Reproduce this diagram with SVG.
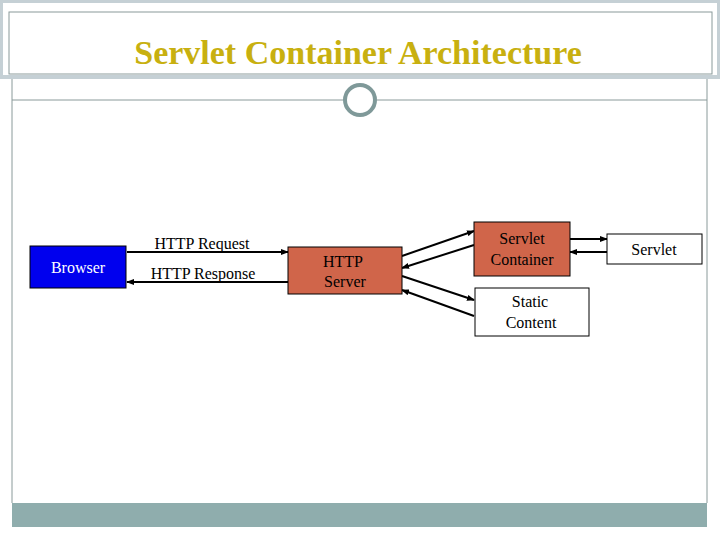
<svg xmlns="http://www.w3.org/2000/svg" width="720" height="540" viewBox="0 0 720 540">
<style>
.t{font-family:"Liberation Serif",serif;font-size:16px;text-anchor:middle}
.c{stroke:#000;stroke-width:2;fill:none;marker-end:url(#a)}
.frame{stroke:#8a9a9a;fill:none}
</style>
<defs><marker id="a" markerWidth="8" markerHeight="6" refX="7" refY="3" orient="auto" markerUnits="userSpaceOnUse"><path d="M0,0L8,3L0,6z" fill="#000"/></marker></defs>
<rect width="720" height="540" fill="#fff"/>
<rect x="1.5" y="1.5" width="717" height="75" fill="none" stroke="#c5d0d5" stroke-width="3"/>
<rect x="9" y="12" width="703" height="62" class="frame"/>
<line x1="0" y1="77" x2="720" y2="77" stroke="#c5d0d5" stroke-width="4"/>
<text x="358" y="64" font-family="Liberation Serif,serif" font-weight="bold" font-size="34" fill="#c8b010" text-anchor="middle">Servlet Container Architecture</text>
<line x1="12" y1="79" x2="12" y2="503" class="frame"/>
<line x1="707" y1="79" x2="707" y2="503" class="frame"/>
<line x1="12" y1="100" x2="343" y2="100" class="frame"/>
<line x1="377" y1="100" x2="707" y2="100" class="frame"/>
<circle cx="360" cy="100" r="15" fill="#fff" stroke="#7f9999" stroke-width="4"/>
<rect x="12" y="503" width="695" height="24" fill="#8fadad"/>
<g id="connectors">
<line x1="127" y1="252" x2="288" y2="252" class="c"/>
<line x1="288" y1="282" x2="127" y2="282" class="c"/>
<line x1="402" y1="256" x2="474" y2="231" class="c"/>
<line x1="474" y1="245" x2="402" y2="268" class="c"/>
<line x1="402" y1="276" x2="474" y2="300" class="c"/>
<line x1="474" y1="316" x2="402" y2="290" class="c"/>
<line x1="570" y1="239" x2="607" y2="239" class="c"/>
<line x1="607" y1="252" x2="570" y2="252" class="c"/>
<text x="202" y="249" class="t">HTTP Request</text>
<text x="203" y="279" class="t">HTTP Response</text>
</g>
<g id="browser"><rect x="30" y="246" width="96" height="42" fill="#0000ee" stroke="#000"/><text x="78" y="273" class="t" fill="#fff">Browser</text></g>
<g id="httpserver"><rect x="288" y="247" width="114" height="47" fill="#d0654a" stroke="#000"/><text x="343" y="267" class="t">HTTP</text><text x="345" y="287" class="t">Server</text></g>
<g id="container"><rect x="474" y="222" width="96" height="54" fill="#d0654a" stroke="#000"/><text x="522" y="244" class="t">Servlet</text><text x="522" y="265" class="t">Container</text></g>
<g id="servlet"><rect x="607" y="234" width="95" height="30" fill="#fff" stroke="#000"/><text x="654" y="255" class="t">Servlet</text></g>
<g id="static"><rect x="475" y="288" width="114" height="48" fill="#fff" stroke="#000"/><text x="530" y="307" class="t">Static</text><text x="531" y="328" class="t">Content</text></g>
</svg>
